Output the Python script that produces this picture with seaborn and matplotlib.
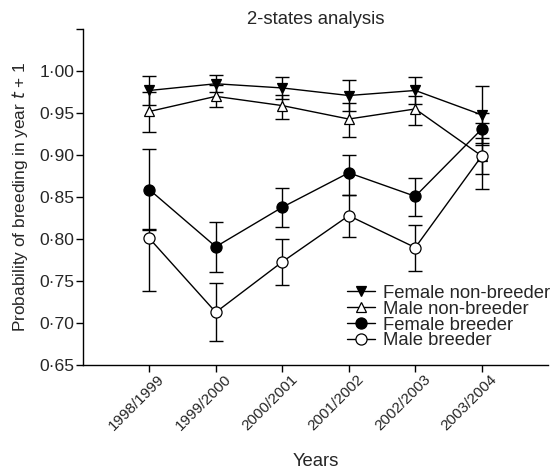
import numpy as np
import pandas as pd
import seaborn as sns
import matplotlib.pyplot as plt
from matplotlib.transforms import ScaledTranslation

years = ["1998/1999", "1999/2000", "2000/2001", "2001/2002", "2002/2003", "2003/2004"]

female_nb = [0.977, 0.985, 0.980, 0.971, 0.977, 0.948]
female_nb_lo = [0.960, 0.975, 0.967, 0.952, 0.961, 0.915]
female_nb_hi = [0.994, 0.995, 0.993, 0.990, 0.993, 0.982]

male_nb = [0.952, 0.970, 0.959, 0.943, 0.955, 0.899]
male_nb_lo = [0.927, 0.957, 0.943, 0.922, 0.936, 0.878]
male_nb_hi = [0.975, 0.983, 0.972, 0.962, 0.970, 0.920]

female_b = [0.859, 0.791, 0.838, 0.879, 0.851, 0.931]
female_b_lo = [0.811, 0.761, 0.815, 0.853, 0.828, 0.912]
female_b_hi = [0.907, 0.821, 0.861, 0.900, 0.873, 0.950]

male_b = [0.801, 0.713, 0.773, 0.828, 0.790, 0.899]
male_b_lo = [0.738, 0.679, 0.746, 0.803, 0.762, 0.860]
male_b_hi = [0.812, 0.748, 0.800, 0.853, 0.817, 0.938]

sns.set_style("ticks")
plt.rcParams['font.family'] = ['Liberation Sans', 'DejaVu Sans']

fig = plt.figure(figsize=(5.56, 4.70), dpi=100)
ax = fig.add_axes([0.149, 0.223, 0.837, 0.715])

series = [
    ("Female non-breeder", female_nb, female_nb_lo, female_nb_hi, "v", "black"),
    ("Male non-breeder", male_nb, male_nb_lo, male_nb_hi, "^", "white"),
    ("Female breeder", female_b, female_b_lo, female_b_hi, "o", "black"),
    ("Male breeder", male_b, male_b_lo, male_b_hi, "o", "white"),
]

x = np.arange(len(years))
for name, vals, lo, hi, mk, fc in series:
    vals = np.array(vals)
    ax.errorbar(x, vals, yerr=[vals - np.array(lo), np.array(hi) - vals],
                fmt="none", ecolor="black", elinewidth=1, capsize=5, capthick=1, zorder=2)
    df = pd.DataFrame({"year": years, "p": vals})
    sns.lineplot(data=df, x="year", y="p", ax=ax, color="black", lw=1,
                 marker=mk, markersize=7.5 if mk != "o" else 8,
                 markerfacecolor=fc, markeredgecolor="black", markeredgewidth=0.9,
                 label=name, zorder=3)

ax.set_xlim(-1, 6)
ax.set_ylim(0.65, 1.05)
yt = np.arange(0.65, 1.051, 0.05)
ax.set_yticks(yt)
ax.set_yticklabels([f"{v:.2f}".replace(".", "\u00b7") if v < 1.04 else "" for v in yt])
ax.set_xticks(x)
ax.set_xticklabels(years, rotation=45, ha="right", rotation_mode="anchor", fontsize=11)
ax.tick_params(axis="y", labelsize=12.6, length=5, width=1, color="black", pad=1)
ax.tick_params(axis="x", length=5, width=1, color="black", pad=4)
# shift rotated labels a bit up and right, like the original
shift = ScaledTranslation(0.08, 0.06, fig.dpi_scale_trans)
for lab in ax.get_xticklabels():
    lab.set_transform(lab.get_transform() + shift)
for s in ["left", "bottom"]:
    ax.spines[s].set_linewidth(1)
    ax.spines[s].set_color("black")
sns.despine(ax=ax)

ax.set_xlabel("Years", fontsize=13.3)
ax.xaxis.set_label_coords(0.5, -0.262)
ax.set_ylabel("Probability of breeding in year $\\it{t}$ + 1", fontsize=12.4, labelpad=6.5)
ax.set_title("2-states analysis", fontsize=13.3, pad=4)

leg = ax.legend(loc="lower right", bbox_to_anchor=(1.02, 0.025), frameon=False,
                fontsize=13.3, handlelength=1.5, handletextpad=0.45,
                labelspacing=-0.06, borderaxespad=0)

fig.savefig("out.png", dpi=100)
